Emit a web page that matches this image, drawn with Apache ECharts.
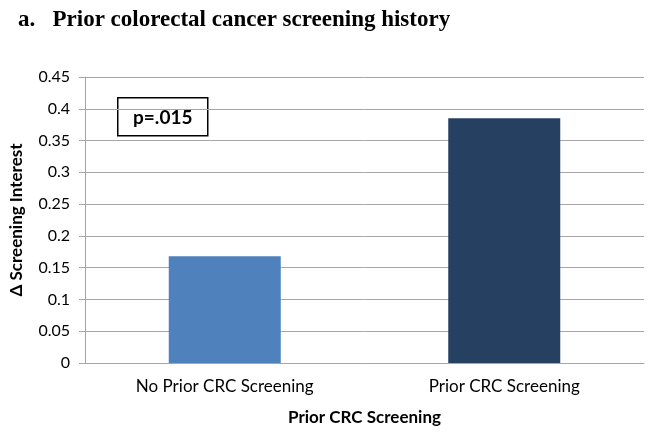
<!DOCTYPE html>
<html>
<head>
<meta charset="utf-8">
<script src="https://cdn.jsdelivr.net/npm/echarts@6/dist/echarts.min.js"></script>
<style>html,body{margin:0;padding:0;background:#fff;}#c{width:654px;height:435px;}</style>
</head>
<body>
<div id="c"></div>
<script>
const categories = ['No Prior CRC Screening', 'Prior CRC Screening'];
const values = [0.168, 0.385];
const barColors = ['#4F81BD', '#254061'];
const yTicks = [0, 0.05, 0.1, 0.15, 0.2, 0.25, 0.3, 0.35, 0.4, 0.45];
const titleText = 'a.   Prior colorectal cancer screening history';
const pText = 'p=.015';

const chart = echarts.init(document.getElementById('c'));
const lblFont = 'Lato, "Open Sans", sans-serif';
chart.setOption({
  animation: false,
  title: {
    text: titleText, left: 13, top: 4,
    textStyle: {fontFamily: '"Liberation Serif", "Times New Roman", serif', fontWeight: 'bold', fontSize: 23, color: '#000'}
  },
  grid: {left: 83, right: 10, top: 77, bottom: 72},
  xAxis: {
    type: 'category', data: categories,
    axisLine: {lineStyle: {color: '#A6A6A6', width: 1}},
    axisTick: {show: false},
    axisLabel: {fontFamily: lblFont, fontSize: 17, color: '#000', margin: 15},
    name: 'Prior CRC Screening', nameLocation: 'middle', nameGap: 46,
    nameTextStyle: {fontFamily: lblFont, fontWeight: 'bold', fontSize: 17, color: '#000'}
  },
  yAxis: {
    type: 'value', min: 0, max: 0.45, interval: 0.05,
    axisLine: {show: true, lineStyle: {color: '#A6A6A6'}},
    axisTick: {show: true, length: 6, lineStyle: {color: '#A6A6A6'}},
    splitLine: {lineStyle: {color: '#A6A6A6'}},
    axisLabel: {fontFamily: lblFont, fontSize: 16, color: '#000', margin: 15,
      formatter: v => { const t = yTicks.find(x => Math.abs(x - v) < 1e-9); return String(t !== undefined ? t : v); }},
    name: 'Δ Screening Interest', nameLocation: 'middle', nameGap: 60,
    nameTextStyle: {fontFamily: lblFont, fontWeight: 'bold', fontSize: 17, color: '#000'}
  },
  series: [{
    type: 'bar', barWidth: 112,
    data: values.map((v, i) => ({value: v, itemStyle: {color: barColors[i]}}))
  }],
  graphic: [{
    type: 'group', left: 117, top: 97,
    children: [
      {type: 'rect', shape: {x: 0, y: 0, width: 90, height: 38}, style: {fill: '#fff', stroke: '#000', lineWidth: 1.5}},
      {type: 'text', x: 45, y: 20, style: {text: pText, fontFamily: lblFont, fontWeight: 'bold', fontSize: 19, fill: '#000', align: 'center', verticalAlign: 'middle'}}
    ]
  }]
});
</script>
</body>
</html>
